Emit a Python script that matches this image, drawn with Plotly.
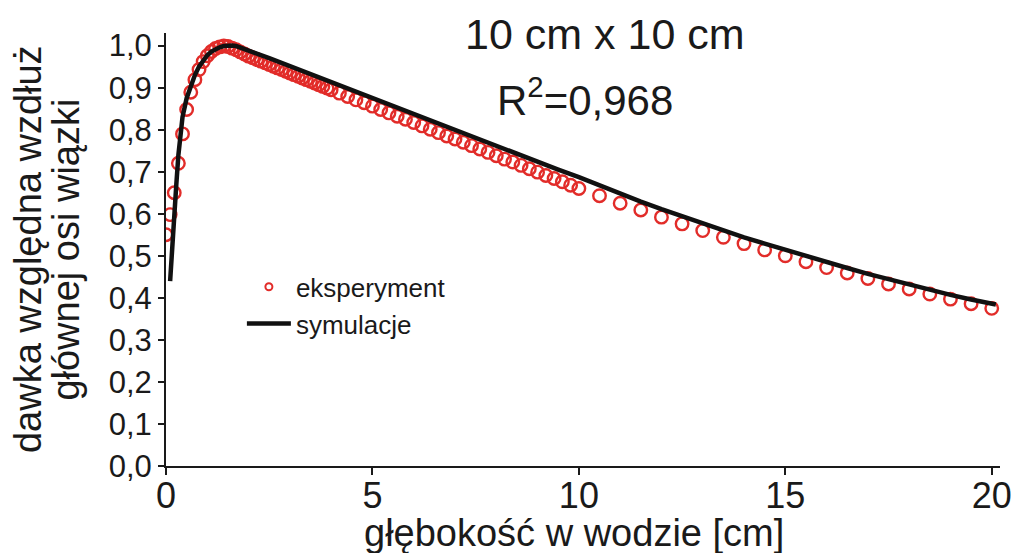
import plotly.graph_objects as go

# Experimental data (depth in cm, relative dose)
exp_depth = [0.0, 0.1, 0.2, 0.3, 0.4, 0.5, 0.6, 0.7, 0.8, 0.9,
             1.0, 1.1, 1.2, 1.3, 1.4, 1.5, 1.6, 1.7, 1.8, 1.9,
             2.0, 2.1, 2.2, 2.3, 2.4, 2.5, 2.6, 2.7, 2.8, 2.9,
             3.0, 3.1, 3.2, 3.3, 3.4, 3.5, 3.6, 3.7, 3.8, 3.9,
             4.0, 4.2, 4.4, 4.6, 4.8, 5.0, 5.2, 5.4, 5.6, 5.8,
             6.0, 6.2, 6.4, 6.6, 6.8, 7.0, 7.2, 7.4, 7.6, 7.8,
             8.0, 8.2, 8.4, 8.6, 8.8, 9.0, 9.2, 9.4, 9.6, 9.8,
             10.0, 10.5, 11.0, 11.5, 12.0, 12.5, 13.0, 13.5, 14.0, 14.5,
             15.0, 15.5, 16.0, 16.5, 17.0, 17.5, 18.0, 18.5, 19.0, 19.5, 20.0]
exp_dose = [0.550, 0.598, 0.650, 0.720, 0.790, 0.848, 0.889, 0.919, 0.943, 0.962,
            0.976, 0.986, 0.993, 0.997, 0.999, 0.998, 0.994, 0.990, 0.985, 0.980,
            0.975, 0.971, 0.967, 0.963, 0.959, 0.955, 0.951, 0.947, 0.943, 0.939,
            0.935, 0.931, 0.927, 0.923, 0.919, 0.915, 0.911, 0.907, 0.903, 0.899,
            0.895, 0.887, 0.879, 0.871, 0.864, 0.856, 0.848, 0.840, 0.832, 0.825,
            0.817, 0.809, 0.801, 0.793, 0.785, 0.778, 0.770, 0.762, 0.754, 0.746,
            0.738, 0.730, 0.723, 0.715, 0.707, 0.699, 0.691, 0.684, 0.676, 0.668,
            0.660, 0.643, 0.625, 0.609, 0.592, 0.576, 0.560, 0.544, 0.529, 0.514,
            0.500, 0.486, 0.472, 0.459, 0.446, 0.433, 0.421, 0.409, 0.397, 0.386, 0.375]

# Simulation curve
sim_depth = [0.1, 0.15, 0.2, 0.25, 0.3, 0.35, 0.4, 0.5, 0.6, 0.7, 0.8, 0.9,
             1.0, 1.1, 1.2, 1.3, 1.4, 1.5, 1.6, 1.7, 1.8, 1.9, 2.0, 2.5, 3.0, 3.5,
             4.0, 4.5, 5.0, 5.5, 6.0, 6.5, 7.0, 7.5, 8.0, 8.5, 9.0, 9.5,
             10.0, 10.5, 11.0, 11.5, 12.0, 12.5, 13.0, 13.5, 14.0, 14.5,
             15.0, 15.5, 16.0, 16.5, 17.0, 17.5, 18.0, 18.5, 19.0, 19.5, 20.0, 20.1]
sim_dose = [0.440, 0.530, 0.600, 0.670, 0.740, 0.790, 0.830, 0.875, 0.905, 0.930, 0.950, 0.965,
            0.977, 0.986, 0.992, 0.996, 0.999, 1.000, 1.000, 0.999, 0.996, 0.992, 0.988, 0.970, 0.951, 0.931,
            0.912, 0.893, 0.874, 0.855, 0.836, 0.817, 0.798, 0.780, 0.761, 0.742, 0.723, 0.705,
            0.687, 0.667, 0.648, 0.629, 0.611, 0.594, 0.577, 0.560, 0.544, 0.529,
            0.514, 0.499, 0.485, 0.471, 0.457, 0.444, 0.431, 0.419, 0.407, 0.396, 0.386, 0.384]

x_ticks = [0, 5, 10, 15, 20]
y_ticks = [0.0, 0.1, 0.2, 0.3, 0.4, 0.5, 0.6, 0.7, 0.8, 0.9, 1.0]
y_tick_text = ["0,0", "0,1", "0,2", "0,3", "0,4", "0,5", "0,6", "0,7", "0,8", "0,9", "1,0"]

RED = "rgb(226,44,41)"
FONT = "Liberation Sans, Arial, sans-serif"
TXT = "#1a1a1a"

fig = go.Figure()
fig.add_trace(go.Scatter(x=exp_depth, y=exp_dose, mode="markers", showlegend=False,
                         marker=dict(symbol="circle-open", size=12.5, color=RED,
                                     line=dict(width=2.4, color=RED))))
fig.add_trace(go.Scatter(x=sim_depth, y=sim_dose, mode="lines", showlegend=False,
                         line=dict(color="#111111", width=4.5)))
# legend-only entries
fig.add_trace(go.Scatter(x=[None], y=[None], mode="markers", name="eksperyment",
                         marker=dict(symbol="circle-open", size=7, color=RED,
                                     line=dict(width=2, color=RED))))
fig.add_trace(go.Scatter(x=[None], y=[None], mode="lines", name="symulacje",
                         line=dict(color="#111111", width=4.5)))

fig.update_layout(
    width=1024, height=553,
    margin=dict(l=165.5, r=16, t=33.4, b=87),
    paper_bgcolor="white", plot_bgcolor="white",
    font=dict(family=FONT, color=TXT),
    showlegend=True,
    legend=dict(x=0.091, y=0.468, xanchor="left", yanchor="top",
                font=dict(size=26, family=FONT, color=TXT),
                bgcolor="rgba(0,0,0,0)", itemwidth=44, tracegroupgap=0),
    xaxis=dict(range=[0, 20.2], tickvals=x_ticks, ticktext=[str(v) for v in x_ticks],
               showgrid=False, zeroline=False, showline=True, linecolor=TXT, linewidth=2,
               ticks="outside", ticklen=7, tickwidth=1.5, tickcolor=TXT,
               ticklabelstandoff=-10,
               tickfont=dict(size=36, family=FONT, color=TXT)),
    yaxis=dict(range=[0, 1.03], tickvals=y_ticks, ticktext=y_tick_text,
               showgrid=False, zeroline=False, showline=True, linecolor=TXT, linewidth=2,
               ticks="outside", ticklen=6, tickwidth=1.5, tickcolor=TXT,
               tickfont=dict(size=31, family=FONT, color=TXT)),
    annotations=[
        dict(text="głębokość w wodzie [cm]", xref="paper", yref="paper", x=0.489, y=-0.155,
             xanchor="center", yanchor="middle", showarrow=False,
             font=dict(size=38, family=FONT, color=TXT)),
        dict(text="dawka względna wzdłuż", xref="paper", yref="paper", x=-0.166, y=0.5,
             xanchor="center", yanchor="middle", showarrow=False, textangle=-90,
             font=dict(size=38, family=FONT, color=TXT)),
        dict(text="głównej osi wiązki", xref="paper", yref="paper", x=-0.121, y=0.5,
             xanchor="center", yanchor="middle", showarrow=False, textangle=-90,
             font=dict(size=38, family=FONT, color=TXT)),
        dict(text="10 cm x 10 cm", xref="paper", yref="paper", x=0.526, y=0.997,
             xanchor="center", yanchor="middle", showarrow=False,
             font=dict(size=43, family=FONT, color=TXT)),
        dict(text="R<sup>2</sup>=0,968", xref="paper", yref="paper", x=0.502, y=0.852,
             xanchor="center", yanchor="middle", showarrow=False,
             font=dict(size=42, family=FONT, color=TXT)),
    ],
)

fig.write_html("out.html")
